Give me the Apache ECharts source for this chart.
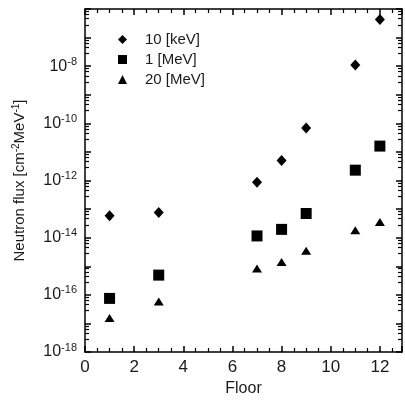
<!DOCTYPE html>
<html>
<head>
<meta charset="utf-8">
<script src="https://cdn.jsdelivr.net/npm/echarts@6/dist/echarts.min.js"></script>
<style>
  html, body { margin: 0; padding: 0; background: #fff; }
  #chart { width: 405px; height: 402px; }
</style>
</head>
<body>
<div id="chart"></div>
<script>
// floors where flux was measured
var floors = [1, 3, 7, 8, 9, 11, 12];
// neutron flux per energy
var flux10keV = [5.9e-14, 7.6e-14, 8.7e-13, 5.0e-12, 6.9e-11, 1.1e-8, 4.3e-7];
var flux1MeV = [7.5e-17, 4.9e-16, 1.15e-14, 1.95e-14, 7.0e-14, 2.3e-12, 1.6e-11];
var flux20MeV = [1.55e-17, 5.9e-17, 8.3e-16, 1.4e-15, 3.5e-15, 1.8e-14, 3.5e-14];
var seriesNames = ['10 [keV]', '1 [MeV]', '20 [MeV]'];

var chart = echarts.init(document.getElementById('chart'));

function pairs(ys) {
    return floors.map(function (f, i) { return [f, ys[i]]; });
}

var font = 'Liberation Sans, Arial, sans-serif';
var ink = '#1a1a1a';

function tick(len) {
    return { show: true, inside: true, length: len, lineStyle: { color: '#000', width: 1.5 } };
}

var xBase = {
    type: 'value',
    min: 0,
    max: 12.9,
    interval: 2,
    axisLine: { show: true, onZero: false, lineStyle: { color: '#000', width: 1.5 } },
    axisTick: tick(6),
    minorTick: { show: true, splitNumber: 4, length: 4, lineStyle: { color: '#000', width: 1.2 } },
    splitLine: { show: false }
};

var yBase = {
    type: 'log',
    logBase: 10,
    min: 1e-18,
    max: 1e-6,
    interval: 1,
    axisLine: { show: true, onZero: false, lineStyle: { color: '#000', width: 1.5 } },
    axisTick: tick(6),
    minorTick: { show: true, splitNumber: 5, length: 4, lineStyle: { color: '#000', width: 1.2 } },
    splitLine: { show: false }
};

chart.setOption({
    animation: false,
    grid: { left: 85, top: 9, width: 318, height: 348 },
    legend: {
        orient: 'vertical',
        left: 113,
        top: 27,
        itemGap: 5,
        itemWidth: 9,
        itemHeight: 9,
        data: seriesNames,
        textStyle: { fontFamily: font, fontSize: 15, color: ink, padding: [0, 0, 0, 13] }
    },
    xAxis: [
        Object.assign({}, xBase, {
            position: 'bottom',
            name: 'Floor',
            nameLocation: 'middle',
            nameGap: 29,
            nameTextStyle: { fontFamily: font, fontSize: 16, color: ink },
            axisLabel: {
                fontFamily: font, fontSize: 17, color: ink, margin: 7,
                formatter: function (v) { return v > 12 ? '' : String(v); }
            }
        }),
        Object.assign({}, xBase, { position: 'top', axisLabel: { show: false } })
    ],
    yAxis: [
        Object.assign({}, yBase, {
            position: 'left',
            name: 'Neutron flux [cm{sup|-2}MeV{sup|-1}]',
            nameLocation: 'middle',
            nameGap: 57,
            nameTextStyle: {
                fontFamily: font, fontSize: 15, color: ink,
                rich: { sup: { fontFamily: font, fontSize: 10, color: ink, verticalAlign: 'top', padding: [0, 0, 7, 0] } }
            },
            axisLabel: {
                margin: 8,
                formatter: function (v) {
                    var e = Math.round(Math.log10(v));
                    if (e % 2 !== 0 || e > -8) return '';
                    return '{b|10}{s|' + e + '}';
                },
                rich: {
                    b: { fontFamily: font, fontSize: 16, color: ink },
                    s: { fontFamily: font, fontSize: 11, color: ink, padding: [0, 0, 9, 0] }
                }
            }
        }),
        Object.assign({}, yBase, { position: 'right', axisLabel: { show: false } })
    ],
    series: [
        {
            name: seriesNames[0], type: 'scatter', symbol: 'diamond', symbolSize: [10, 11],
            itemStyle: { color: '#000', opacity: 1 }, data: pairs(flux10keV)
        },
        {
            name: seriesNames[1], type: 'scatter', symbol: 'rect', symbolSize: 11,
            itemStyle: { color: '#000', opacity: 1 }, data: pairs(flux1MeV)
        },
        {
            name: seriesNames[2], type: 'scatter', symbol: 'triangle', symbolSize: [10, 8],
            itemStyle: { color: '#000', opacity: 1 }, data: pairs(flux20MeV)
        }
    ]
});
</script>
</body>
</html>
